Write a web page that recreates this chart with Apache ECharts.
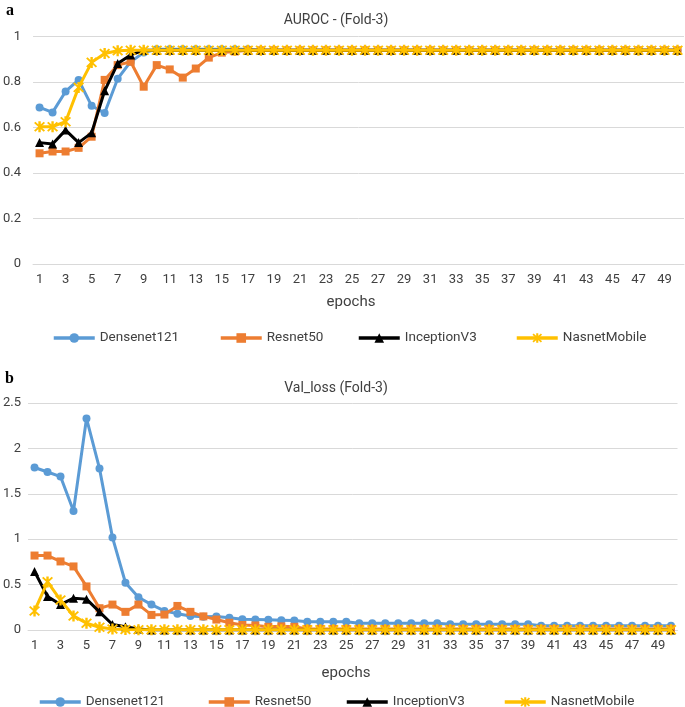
<!DOCTYPE html>
<html>
<head>
<meta charset="utf-8">
<script src="https://cdn.jsdelivr.net/npm/echarts@6/dist/echarts.min.js"></script>
<style>
html,body{margin:0;padding:0;background:#fff;}
#chart{width:685px;height:707px;}
</style>
</head>
<body>
<div id="chart"></div>
<script>
const epochs = ['1','2','3','4','5','6','7','8','9','10','11','12','13','14','15','16','17','18','19','20','21','22','23','24','25','26','27','28','29','30','31','32','33','34','35','36','37','38','39','40','41','42','43','44','45','46','47','48','49','50'];
const seriesNames = ['Densenet121','Resnet50','InceptionV3','NasnetMobile'];

const aurocDensenet = [0.689,0.667,0.759,0.81,0.696,0.664,0.815,0.89,0.93,0.945,0.945,0.945,0.945,0.945,0.945,0.945,0.945,0.94,0.94,0.94,0.94,0.94,0.94,0.94,0.94,0.94,0.94,0.94,0.94,0.94,0.94,0.94,0.94,0.94,0.94,0.94,0.94,0.94,0.94,0.94,0.94,0.94,0.94,0.94,0.94,0.94,0.94,0.94,0.94,0.94];
const aurocResnet = [0.487,0.495,0.495,0.511,0.56,0.81,0.875,0.89,0.78,0.875,0.856,0.82,0.86,0.908,0.93,0.935,0.94,0.94,0.94,0.94,0.94,0.94,0.94,0.94,0.94,0.94,0.94,0.94,0.94,0.94,0.94,0.94,0.94,0.94,0.94,0.94,0.94,0.94,0.94,0.94,0.94,0.94,0.94,0.94,0.94,0.94,0.94,0.94,0.94,0.94];
const aurocInception = [0.534,0.528,0.589,0.534,0.577,0.762,0.882,0.92,0.94,0.94,0.94,0.94,0.94,0.94,0.94,0.94,0.94,0.94,0.94,0.94,0.94,0.94,0.94,0.94,0.94,0.94,0.94,0.94,0.94,0.94,0.94,0.94,0.94,0.94,0.94,0.94,0.94,0.94,0.94,0.94,0.94,0.94,0.94,0.94,0.94,0.94,0.94,0.94,0.94,0.94];
const aurocNasnet = [0.604,0.604,0.626,0.777,0.887,0.926,0.938,0.94,0.94,0.94,0.94,0.94,0.94,0.94,0.94,0.94,0.94,0.94,0.94,0.94,0.94,0.94,0.94,0.94,0.94,0.94,0.94,0.94,0.94,0.94,0.94,0.94,0.94,0.94,0.94,0.94,0.94,0.94,0.94,0.94,0.94,0.94,0.94,0.94,0.94,0.94,0.94,0.94,0.94,0.94];

const lossDensenet = [1.79,1.74,1.69,1.31,2.33,1.78,1.02,0.52,0.36,0.28,0.21,0.18,0.155,0.147,0.148,0.135,0.118,0.115,0.112,0.108,0.104,0.09,0.09,0.09,0.09,0.075,0.075,0.075,0.075,0.075,0.075,0.075,0.063,0.063,0.063,0.063,0.063,0.063,0.063,0.048,0.048,0.048,0.048,0.048,0.048,0.048,0.048,0.048,0.048,0.048];
const lossResnet = [0.82,0.82,0.755,0.70,0.48,0.24,0.28,0.20,0.28,0.166,0.17,0.265,0.20,0.15,0.115,0.08,0.055,0.05,0.035,0.04,0.035,0.012,0.012,0.012,0.012,0.012,0.012,0.012,0.012,0.012,0.012,0.012,0.012,0.012,0.012,0.012,0.012,0.012,0.012,0.012,0.012,0.012,0.012,0.012,0.012,0.012,0.012,0.012,0.012,0.012];
const lossInception = [0.645,0.37,0.28,0.35,0.34,0.20,0.06,0.035,0.01,0,0,0,0,0,0,0,0,0,0,0,0,0,0,0,0,0,0,0,0,0,0,0,0,0,0,0,0,0,0,0,0,0,0,0,0,0,0,0,0,0];
const lossNasnet = [0.21,0.53,0.33,0.155,0.074,0.03,0.01,0.005,0.003,0.003,0.003,0.003,0.003,0.003,0.003,0.003,0.003,0.003,0.003,0.003,0.003,0.003,0.003,0.003,0.003,0.003,0.003,0.003,0.003,0.003,0.003,0.003,0.003,0.003,0.003,0.003,0.003,0.003,0.003,0.003,0.003,0.003,0.003,0.003,0.003,0.003,0.003,0.003,0.003,0.003];

const aurocTicks = [0, 0.2, 0.4, 0.6, 0.8, 1];
const lossTicks = [0, 0.5, 1, 1.5, 2, 2.5];

const FONT = 'Roboto';
const TXT = '#404040';
const colors = ['#5B9BD5', '#ED7D31', '#000000', '#FFC000'];
const starPath = 'path://M-1,-5L1,-5L1,5L-1,5Z M-3.43,-4.57L4.57,3.43L3.43,4.57L-4.57,-3.43Z M3.43,-4.57L4.57,-3.43L-3.43,4.57L-4.57,3.43Z';
const symbols = ['circle', 'rect', 'triangle', starPath];
const symbolSizes = [8, 8, 9, 11];

function mkSeries(idx, data, gi) {
  return {
    name: seriesNames[idx], type: 'line', data: data,
    xAxisIndex: gi, yAxisIndex: gi,
    symbol: symbols[idx], symbolSize: symbolSizes[idx], showAllSymbol: true,
    lineStyle: {color: colors[idx], width: 3},
    itemStyle: {color: colors[idx]},
    z: 2 + idx, animation: false
  };
}

function mkLegends(top, lefts) {
  return seriesNames.map((n, i) => ({
    data: [n], left: lefts[i], top: top, itemWidth: 41, itemHeight: 12, itemGap: 0,
    lineStyle: {width: 3.5},
    textStyle: {fontFamily: FONT, fontSize: 13.5, color: TXT}, selectedMode: false
  }));
}

const xCommon = (gi) => ({
  type: 'category', data: epochs, gridIndex: gi, boundaryGap: true,
  axisLine: {show: true, lineStyle: {color: '#d9d9d9', width: 1}},
  axisTick: {show: false},
  axisLabel: {interval: 1, fontFamily: FONT, fontSize: 13, color: TXT, margin: 9}
});
const yCommon = (gi, max, interval, margin) => ({
  type: 'value', gridIndex: gi, min: 0, max: max, interval: interval,
  axisLine: {show: false}, axisTick: {show: false},
  splitLine: {lineStyle: {color: '#d9d9d9', width: 1}},
  axisLabel: {fontFamily: FONT, fontSize: 13, color: TXT, margin: margin,
    formatter: v => String(Math.round(v * 10) / 10)}
});

const chart = echarts.init(document.getElementById('chart'), null, {renderer: 'canvas'});
chart.setOption({
  animation: false,
  backgroundColor: '#fff',
  grid: [
    {left: 29.5, right: 1, top: 36.7, height: 227.3},
    {left: 24, right: 7.5, top: 403, height: 227}
  ],
  xAxis: [xCommon(0), xCommon(1)],
  yAxis: [yCommon(0, aurocTicks[aurocTicks.length-1], aurocTicks[1] - aurocTicks[0], 12),
          yCommon(1, lossTicks[lossTicks.length-1], lossTicks[1] - lossTicks[0], 7)],
  legend: mkLegends(326, [47, 214, 352, 510]).concat(mkLegends(690, [33, 202, 340, 498])),
  series: [
    mkSeries(0, aurocDensenet, 0), mkSeries(1, aurocResnet, 0), mkSeries(2, aurocInception, 0), mkSeries(3, aurocNasnet, 0),
    mkSeries(0, lossDensenet, 1), mkSeries(1, lossResnet, 1), mkSeries(2, lossInception, 1), mkSeries(3, lossNasnet, 1)
  ],
  graphic: [
    {type: 'text', x: 10, y: 11, style: {text: 'a', font: 'bold 16px "Liberation Serif", "DejaVu Serif", serif', fill: '#000', textAlign: 'center', textVerticalAlign: 'middle'}},
    {type: 'text', x: 9.5, y: 379, style: {text: 'b', font: 'bold 16px "Liberation Serif", "DejaVu Serif", serif', fill: '#000', textAlign: 'center', textVerticalAlign: 'middle'}},
    {type: 'text', x: 336, y: 20, style: {text: 'AUROC - (Fold-3)', font: '14px Roboto', fill: TXT, textAlign: 'center', textVerticalAlign: 'middle'}},
    {type: 'text', x: 336, y: 388, style: {text: 'Val_loss (Fold-3)', font: '14px Roboto', fill: TXT, textAlign: 'center', textVerticalAlign: 'middle'}},
    {type: 'text', x: 351, y: 302.5, style: {text: 'epochs', font: '15px Roboto', fill: TXT, textAlign: 'center', textVerticalAlign: 'middle'}},
    {type: 'text', x: 346, y: 673, style: {text: 'epochs', font: '15px Roboto', fill: TXT, textAlign: 'center', textVerticalAlign: 'middle'}}
  ]
});
</script>
</body>
</html>
